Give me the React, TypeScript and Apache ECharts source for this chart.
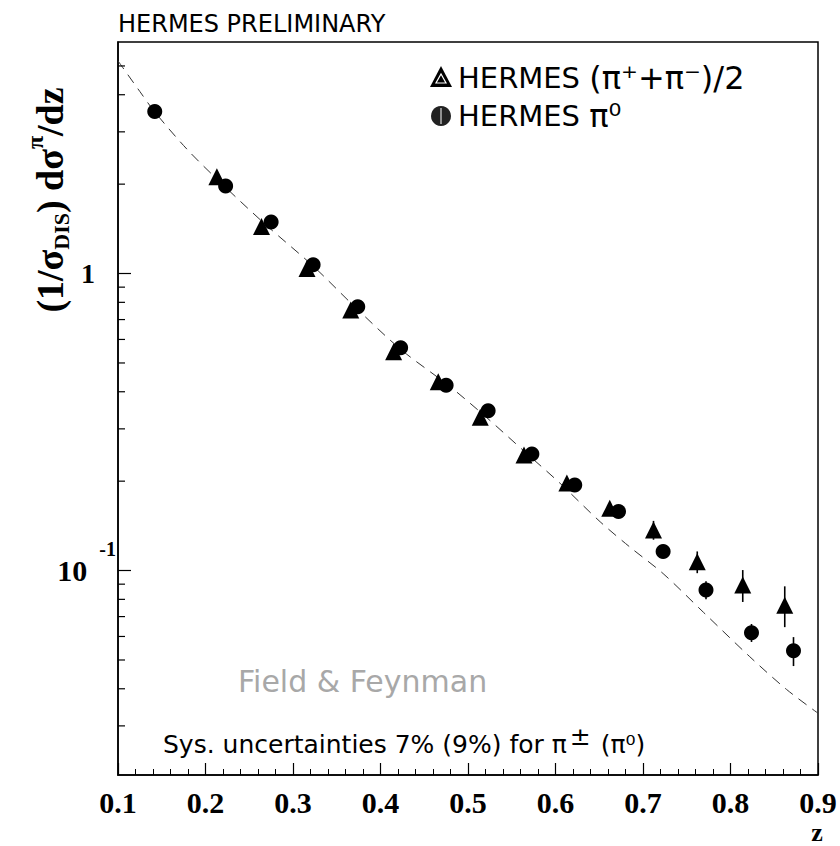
import React, { useEffect, useRef } from 'react';
import * as echarts from 'echarts';

// HERMES (pi+ + pi-)/2  (triangles)
const chargedZ = [0.213, 0.264, 0.316, 0.366, 0.415, 0.466, 0.514, 0.564, 0.613, 0.662, 0.712, 0.762, 0.814, 0.862];
const chargedVal = [2.12, 1.44, 1.04, 0.754, 0.545, 0.432, 0.328, 0.245, 0.197, 0.162, 0.137, 0.107, 0.0894, 0.0765];
const chargedErr = [0.03, 0.02, 0.015, 0.011, 0.008, 0.007, 0.006, 0.005, 0.005, 0.006, 0.01, 0.009, 0.011, 0.012];

// HERMES pi0 (circles)
const neutralZ = [0.142, 0.223, 0.275, 0.323, 0.374, 0.423, 0.475, 0.523, 0.573, 0.622, 0.672, 0.723, 0.772, 0.824, 0.872];
const neutralVal = [3.51, 1.97, 1.49, 1.07, 0.773, 0.563, 0.421, 0.345, 0.247, 0.194, 0.158, 0.116, 0.086, 0.0618, 0.0537];
const neutralErr = [0.05, 0.03, 0.02, 0.015, 0.01, 0.008, 0.006, 0.005, 0.004, 0.004, 0.004, 0.004, 0.006, 0.0043, 0.006];

// Field & Feynman curve
const ffZ = [0.1, 0.125, 0.142, 0.18, 0.223, 0.27, 0.323, 0.37, 0.423, 0.48, 0.52, 0.565, 0.605, 0.651, 0.685, 0.723, 0.769, 0.822, 0.864, 0.9];
const ffVal = [5.2, 4.1, 3.5, 2.6, 1.95, 1.45, 1.06, 0.776, 0.556, 0.415, 0.33, 0.251, 0.197, 0.146, 0.12, 0.0977, 0.0724, 0.0513, 0.0398, 0.0331];

// axes
const xMin = 0.1;
const xMax = 0.9;
const xStep = 0.1;
const yMin = 0.0205;
const yMax = 6.02;
const yMinorTicks = [0.03, 0.04, 0.05, 0.06, 0.07, 0.08, 0.09, 0.2, 0.3, 0.4, 0.5, 0.6, 0.7, 0.8, 0.9, 2, 3, 4, 5];

const SERIF = "'Liberation Serif', 'Times New Roman', serif";
const SANS = "'DejaVu Sans', 'Liberation Sans', sans-serif";

export default function App() {
  const ref = useRef<HTMLDivElement>(null);

  useEffect(() => {
    if (!ref.current) return;
    const chart = echarts.init(ref.current, null, { renderer: 'svg' });

    const errRender = (params: any, api: any) => {
      const p1 = api.coord([api.value(0), api.value(1)]);
      const p2 = api.coord([api.value(0), api.value(2)]);
      return {
        type: 'line',
        shape: { x1: p1[0], y1: p1[1], x2: p2[0], y2: p2[1] },
        style: { stroke: '#000', lineWidth: 1.6 },
      };
    };

    const option: any = {
      animation: false,
      backgroundColor: '#fff',
      grid: {
        left: 118,
        top: 42,
        width: 700,
        height: 733,
        show: true,
        borderColor: '#000',
        borderWidth: 1.5,
        backgroundColor: 'transparent',
      },
      xAxis: {
        type: 'value',
        min: xMin,
        max: xMax,
        interval: xStep,
        axisLine: { show: true, lineStyle: { color: '#000', width: 1.5 } },
        axisTick: { show: true, inside: true, length: 12, lineStyle: { color: '#000', width: 1.2 } },
        minorTick: { show: true, splitNumber: 5, length: 6, lineStyle: { color: '#000', width: 1 } },
        splitLine: { show: false },
        axisLabel: {
          margin: 13,
          showMinLabel: true,
          showMaxLabel: true,
          color: '#000',
          fontSize: 30,
          lineHeight: 28,
          fontWeight: 'bold',
          fontFamily: SERIF,
          formatter: (v: number) => v.toFixed(1),
        },
      },
      yAxis: {
        type: 'log',
        logBase: 10,
        min: yMin,
        max: yMax,
        axisLine: { show: true, lineStyle: { color: '#000', width: 1.5 } },
        axisTick: { show: true, inside: true, length: 13, lineStyle: { color: '#000', width: 1.2 } },
        splitLine: { show: false },
        axisLabel: {
          margin: 2,
          showMinLabel: false,
          showMaxLabel: false,
          color: '#000',
          formatter: (v: number) => {
            if (Math.abs(v - 1) < 1e-6) return '{one|1}';
            if (Math.abs(v - 0.1) < 1e-7) return '{ten|10}{sup|-1}';
            return '';
          },
          rich: {
            one: { fontSize: 28, fontWeight: 'bold', fontFamily: SERIF, color: '#000', verticalAlign: 'middle', padding: [0, 21, 0, 0] },
            ten: { fontSize: 30, fontWeight: 'bold', fontFamily: SERIF, color: '#000', verticalAlign: 'middle' },
            sup: { fontSize: 20, fontWeight: 'bold', fontFamily: SERIF, color: '#000', verticalAlign: 'middle', lineHeight: 20, padding: [0, 0, 44, 12] },
          },
        },
      },
      series: [
        {
          type: 'line',
          data: ffZ.map((z, i) => [z, ffVal[i]]),
          smooth: 0.3,
          showSymbol: false,
          symbol: 'none',
          lineStyle: { color: '#333', width: 1, type: [10, 7] },
          z: 2,
          silent: true,
        },
        {
          type: 'custom',
          coordinateSystem: 'cartesian2d',
          data: chargedZ.map((z, i) => [z, chargedVal[i] - chargedErr[i], chargedVal[i] + chargedErr[i]]),
          encode: { x: 0, y: [1, 2] },
          renderItem: errRender,
          z: 3,
          silent: true,
        },
        {
          type: 'custom',
          coordinateSystem: 'cartesian2d',
          data: neutralZ.map((z, i) => [z, neutralVal[i] - neutralErr[i], neutralVal[i] + neutralErr[i]]),
          encode: { x: 0, y: [1, 2] },
          renderItem: errRender,
          z: 3,
          silent: true,
        },
        {
          type: 'scatter',
          name: 'HERMES (π⁺+π⁻)/2',
          data: chargedZ.map((z, i) => [z, chargedVal[i]]),
          symbol: 'triangle',
          symbolSize: 17,
          itemStyle: { color: '#000', opacity: 1 },
          z: 4,
          silent: true,
        },
        {
          type: 'scatter',
          name: 'HERMES π⁰',
          data: neutralZ.map((z, i) => [z, neutralVal[i]]),
          symbol: 'circle',
          symbolSize: 15,
          itemStyle: { color: '#000', opacity: 1 },
          z: 5,
          silent: true,
        },
        {
          type: 'custom',
          coordinateSystem: 'cartesian2d',
          data: yMinorTicks.map((v) => [xMin, v]),
          encode: { x: 0, y: 1 },
          renderItem: (params: any, api: any) => {
            const p = api.coord([api.value(0), api.value(1)]);
            return {
              type: 'line',
              shape: { x1: p[0], y1: p[1], x2: p[0] + 7, y2: p[1] },
              style: { stroke: '#000', lineWidth: 1.2 },
            };
          },
          z: 6,
          silent: true,
        },
      ],
      graphic: [
        {
          type: 'text',
          x: 118,
          y: 24,
          style: {
            text: 'HERMES PRELIMINARY',
            fontSize: 24,
            fontFamily: SANS,
            fill: '#000',
            align: 'left',
            verticalAlign: 'middle',
            textAlign: 'left',
            textVerticalAlign: 'middle',
          },
        },
        {
          type: 'text',
          x: 50,
          y: 200,
          rotation: Math.PI / 2,
          style: {
            text: '{m|(1/σ}{sub|DIS}{m|) dσ}{sup|π}{m|/dz}',
            align: 'center',
            verticalAlign: 'middle',
            textAlign: 'center',
            textVerticalAlign: 'middle',
            fill: '#000',
            rich: {
              m: { fontSize: 38, fontWeight: 'bold', fontFamily: SERIF, fill: '#000', color: '#000', verticalAlign: 'middle' },
              sub: { fontSize: 22, fontWeight: 'bold', fontFamily: SERIF, fill: '#000', color: '#000', verticalAlign: 'middle', lineHeight: 22, padding: [22, 0, 0, 0] },
              sup: { fontSize: 24, fontWeight: 'bold', fontFamily: SERIF, fill: '#000', color: '#000', verticalAlign: 'middle', lineHeight: 24, padding: [0, 0, 30, 0] },
            },
          },
        },
        {
          type: 'text',
          x: 817,
          y: 832,
          style: {
            text: 'z',
            fontSize: 26,
            lineHeight: 22,
            fontWeight: 'bold',
            fontFamily: SERIF,
            fill: '#000',
            align: 'center',
            verticalAlign: 'middle',
            textAlign: 'center',
            textVerticalAlign: 'middle',
          },
        },
        // legend
        {
          type: 'polygon',
          shape: { points: [[430, 87], [452, 87], [441, 66]] },
          style: { fill: '#000' },
        },
        {
          type: 'polygon',
          shape: { points: [[436, 83], [446, 83], [441, 74]] },
          style: { fill: 'none', stroke: '#fff', lineWidth: 1.2 },
        },
        {
          type: 'text',
          x: 458,
          y: 78,
          style: {
            text: '{a|HERMES }{b|(π⁺+π⁻)/2}',
            align: 'left',
            verticalAlign: 'middle',
            textAlign: 'left',
            textVerticalAlign: 'middle',
            rich: {
              a: { fontSize: 29, lineHeight: 28, fontFamily: SANS, fill: '#000', color: '#000' },
              b: { fontSize: 32, lineHeight: 28, fontFamily: SANS, fill: '#000', color: '#000' },
            },
          },
        },
        {
          type: 'circle',
          shape: { cx: 441, cy: 116, r: 10 },
          style: { fill: '#222' },
        },
        {
          type: 'line',
          shape: { x1: 441, y1: 108, x2: 441, y2: 124 },
          style: { stroke: '#fff', lineWidth: 1 },
        },
        {
          type: 'text',
          x: 458,
          y: 116,
          style: {
            text: '{a|HERMES }{b|π⁰}',
            align: 'left',
            verticalAlign: 'middle',
            textAlign: 'left',
            textVerticalAlign: 'middle',
            rich: {
              a: { fontSize: 29, lineHeight: 28, fontFamily: SANS, fill: '#000', color: '#000' },
              b: { fontSize: 32, lineHeight: 28, fontFamily: SANS, fill: '#000', color: '#000' },
            },
          },
        },
        {
          type: 'text',
          x: 238,
          y: 681,
          style: {
            text: 'Field & Feynman',
            fontSize: 30,
            fontFamily: SANS,
            fill: '#a8a8a8',
            align: 'left',
            verticalAlign: 'middle',
            textAlign: 'left',
            textVerticalAlign: 'middle',
          },
        },
        {
          type: 'text',
          x: 163,
          y: 744,
          style: {
            text: '{a|Sys. uncertainties 7% (9%) for π}{s|±}{a| (π⁰)}',
            align: 'left',
            verticalAlign: 'middle',
            textAlign: 'left',
            textVerticalAlign: 'middle',
            rich: {
              a: { fontSize: 25, fontFamily: SANS, fill: '#000', color: '#000', verticalAlign: 'middle' },
              s: { fontSize: 25, fontFamily: SANS, fill: '#000', color: '#000', verticalAlign: 'middle', lineHeight: 25, padding: [0, 2, 16, 3] },
            },
          },
        },
      ],
    };

    chart.setOption(option);
    return () => {
      chart.dispose();
    };
  }, []);

  return (
    <div
      ref={ref}
      style={{ position: 'fixed', left: 0, top: 0, width: 840, height: 846, background: '#fff' }}
    />
  );
}
